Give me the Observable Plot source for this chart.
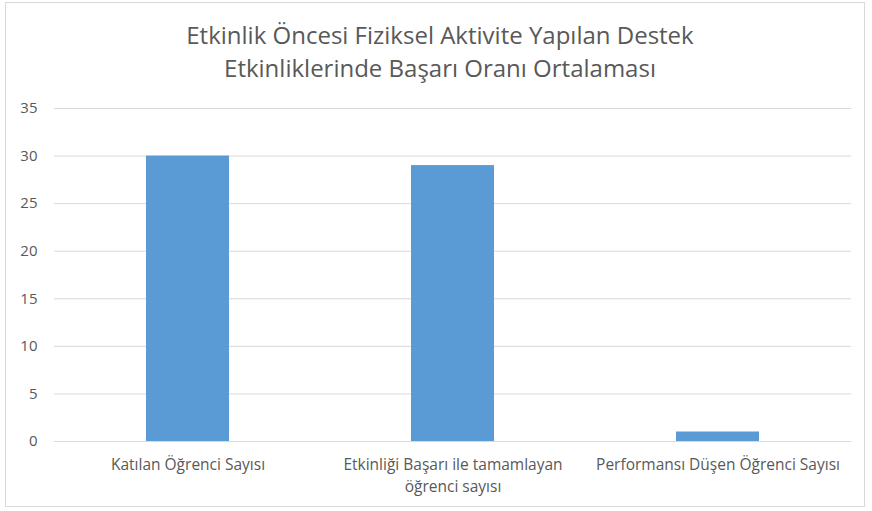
<!DOCTYPE html>
<html>
<head>
<meta charset="utf-8">
<script src="https://cdn.jsdelivr.net/npm/d3@7"></script>
<script src="https://cdn.jsdelivr.net/npm/@observablehq/plot@0.6"></script>
<style>
  html, body { margin: 0; padding: 0; background: #fff; }
  #frame { position: absolute; left: 5px; top: 2px; width: 860px; height: 505px; border: 1px solid #d9d9d9; box-sizing: border-box; }
  #title { position: absolute; left: 0; top: 18px; width: 880px; text-align: center; font-family: "Open Sans", sans-serif; font-size: 24px; line-height: 33px; color: #595959; }
  #chart { position: absolute; left: 0; top: 90px; }
</style>
</head>
<body>
<div id="frame"></div>
<div id="title">Etkinlik Öncesi Fiziksel Aktivite Yapılan Destek<br>Etkinliklerinde Başarı Oranı Ortalaması</div>
<div id="chart"></div>
<script>
const categories = ["Katılan Öğrenci Sayısı", "Etkinliği Başarı ile tamamlayan öğrenci sayısı", "Performansı Düşen Öğrenci Sayısı"];
const tickLabels = ["Katılan Öğrenci Sayısı", "Etkinliği Başarı ile tamamlayan\nöğrenci sayısı", "Performansı Düşen Öğrenci Sayısı"];
const values = [30, 29, 1];
const yTicks = [0, 5, 10, 15, 20, 25, 30, 35];

const data = categories.map((c, i) => ({category: c, value: values[i]}));
const labelOf = new Map(categories.map((c, i) => [c, tickLabels[i]]));

const chart = Plot.plot({
  width: 872,
  height: 421,
  marginTop: 18,
  marginBottom: 70,
  marginLeft: 54,
  marginRight: 21,
  style: { fontFamily: "Open Sans, sans-serif", fontSize: "15px", color: "#595959", background: "transparent" },
  x: { domain: categories, padding: 0, label: null },
  y: { domain: [0, 35], label: null },
  marks: [
    Plot.gridY(yTicks, { stroke: "#d9d9d9", strokeOpacity: 1, strokeWidth: 1 }),
    Plot.barY(data, { x: "category", y: "value", fill: "#5B9BD5", insetLeft: 91, insetRight: 91 }),
    Plot.axisY(yTicks, { tickSize: 0, tickPadding: 17, fontSize: 15, fill: "#595959", label: null }),
    Plot.axisX({ tickSize: 0, tickPadding: 13, fontSize: 15.5, fill: "#595959", tickFormat: d => labelOf.get(d), lineHeight: 1.42, label: null })
  ]
});
document.getElementById("chart").appendChild(chart);
</script>
</body>
</html>
